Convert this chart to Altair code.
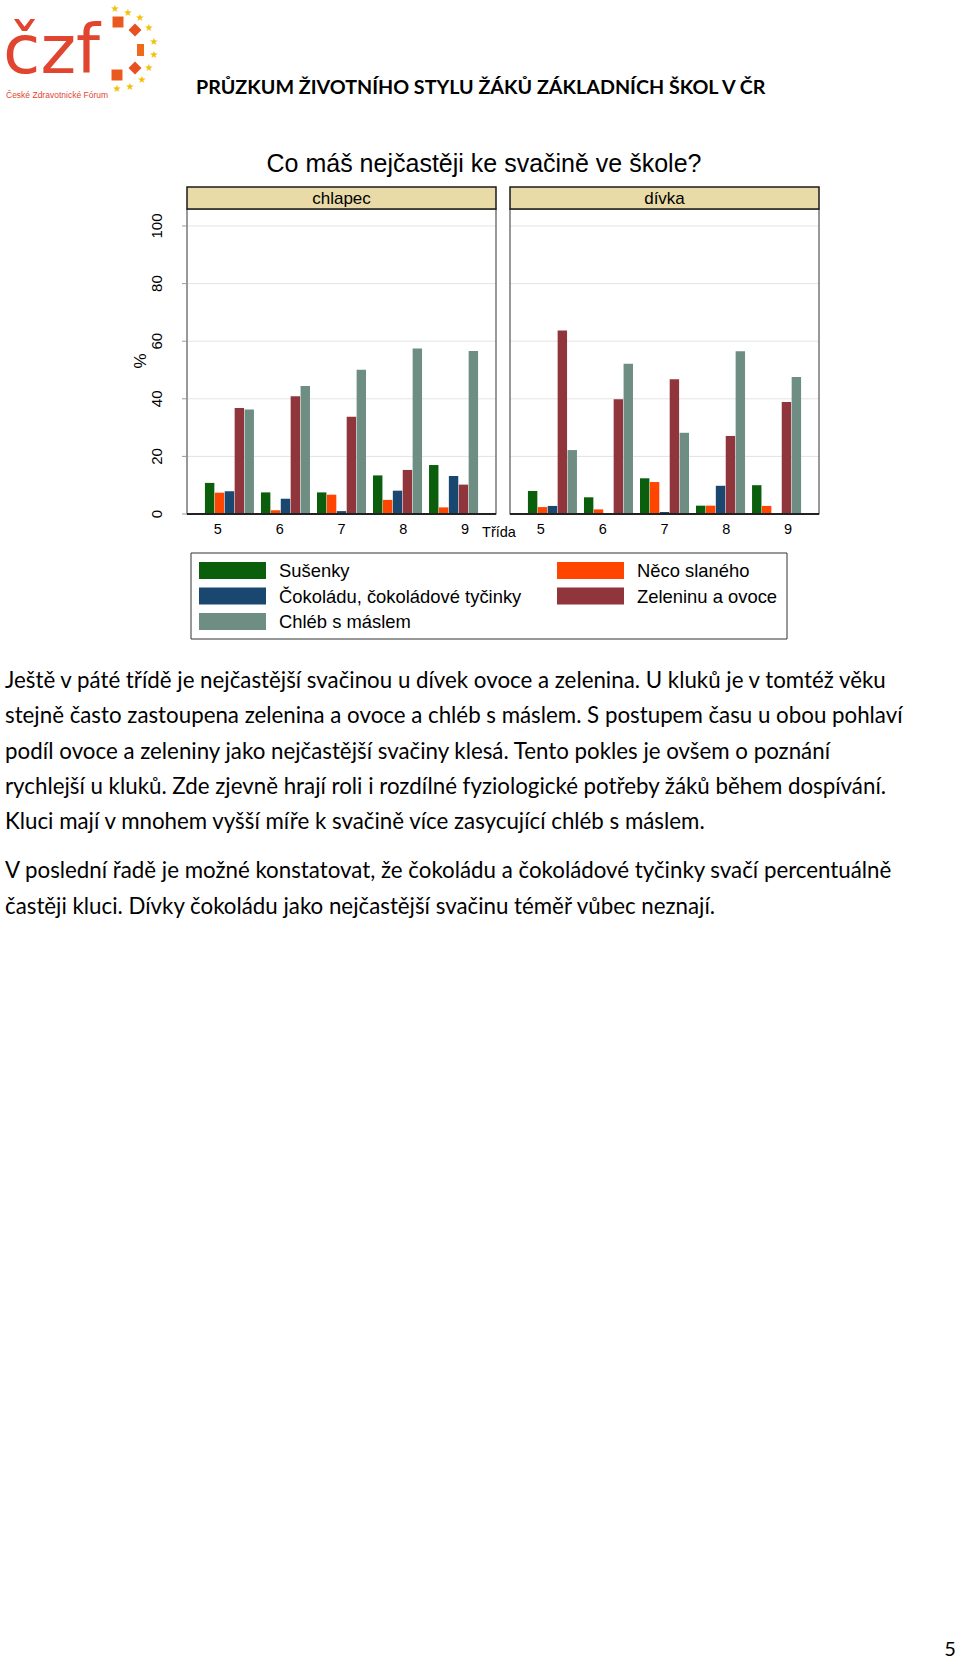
import altair as alt
import pandas as pd

# ---------------- data ----------------
grades = ["5", "6", "7", "8", "9"]
categories = ["Sušenky", "Něco slaného", "Čokoládu, čokoládové tyčinky",
              "Zeleninu a ovoce", "Chléb s máslem"]
colors = ["#0b5e0b", "#ff4500", "#1a476f", "#90353b", "#6e8e84"]

boys_susenky = [10.8, 7.5, 7.5, 13.4, 17.0]
boys_slane = [7.4, 1.3, 6.7, 4.9, 2.3]
boys_cokolada = [7.9, 5.3, 1.0, 8.1, 13.2]
boys_zelenina = [36.8, 40.9, 33.8, 15.3, 10.2]
boys_chleb = [36.3, 44.4, 50.1, 57.5, 56.6]

girls_susenky = [8.0, 5.8, 12.4, 2.9, 10.0]
girls_slane = [2.4, 1.6, 11.1, 2.9, 2.8]
girls_cokolada = [2.8, 0.0, 0.7, 9.8, 0.0]
girls_zelenina = [63.7, 39.8, 46.8, 27.1, 38.9]
girls_chleb = [22.2, 52.2, 28.2, 56.5, 47.6]

yticks = [0, 20, 40, 60, 80, 100]

header_title = "PRŮZKUM ŽIVOTNÍHO STYLU ŽÁKŮ ZÁKLADNÍCH ŠKOL V ČR"
chart_title = "Co máš nejčastěji ke svačině ve škole?"
panel_labels = ["chlapec", "dívka"]
x_title = "Třída"
y_title = "%"

paragraph1 = [
    "Ještě v páté třídě je nejčastější svačinou u dívek ovoce a zelenina. U kluků je v tomtéž věku",
    "stejně často zastoupena zelenina a ovoce a chléb s máslem. S postupem času u obou pohlaví",
    "podíl ovoce a zeleniny jako nejčastější svačiny klesá. Tento pokles je ovšem o poznání",
    "rychlejší u kluků. Zde zjevně hrají roli i rozdílné fyziologické potřeby žáků během dospívání.",
    "Kluci mají v mnohem vyšší míře k svačině více zasycující chléb s máslem.",
]
paragraph2 = [
    "V poslední řadě je možné konstatovat, že čokoládu a čokoládové tyčinky svačí percentuálně",
    "častěji kluci. Dívky čokoládu jako nejčastější svačinu téměř vůbec neznají.",
]
page_number = "5"

# ---------------- layout ----------------
W, H = 960, 1661
FONT = "Liberation Sans"
TFONT = "Lato"
PLOT_TOP, PLOT_BOTTOM, STRIP_TOP = 209, 514, 187
PANELS = [(187, 496), (510, 819)]
one = pd.DataFrame({"k": [0]})

yscale = alt.Scale(domain=[0, 105.9], range=[PLOT_BOTTOM, PLOT_TOP], nice=False, zero=False)


def xscale(x0, x1):
    return alt.Scale(domain=grades, range=[x0, x1], paddingInner=0.125, paddingOuter=0.32)


def vtext(text, x, y, size, color="#000", font=FONT, align="center", weight="normal",
          baseline="middle", angle=0):
    return alt.Chart(one).mark_text(
        text=text, font=font, fontSize=size, color=color, align=align,
        fontWeight=weight, baseline=baseline, angle=angle
    ).encode(x=alt.value(x), y=alt.value(y))


layers = []

# ---- logo ----
layers.append(vtext("čzf", 3, 73, 68, color="#e2452f", font="DejaVu Sans", align="left",
                    baseline="alphabetic"))
layers.append(vtext("České Zdravotnické Fórum", 6, 95, 8.5, color="#e2452f", align="left"))
stars = pd.DataFrame({"sx": [115, 128, 140, 149, 154, 154, 149, 142, 130, 117],
                      "sy": [9, 13, 18, 28, 42, 55, 68, 80, 87, 89]})
layers.append(alt.Chart(stars).mark_text(text="★", fontSize=10, color="#f2c200",
                                         font="DejaVu Sans").encode(
    x=alt.X("sx:Q", scale=None), y=alt.Y("sy:Q", scale=None)))
sq = pd.DataFrame({"sx": [118, 117], "sy": [22, 75]})
layers.append(alt.Chart(sq).mark_point(shape="square", filled=True, size=120, color="#ea5a1e",
                                       opacity=1).encode(
    x=alt.X("sx:Q", scale=None), y=alt.Y("sy:Q", scale=None)))
dm = pd.DataFrame({"sx": [135, 135], "sy": [30, 68]})
layers.append(alt.Chart(dm).mark_point(shape="diamond", filled=True, size=170, color="#e8501e",
                                       opacity=1).encode(
    x=alt.X("sx:Q", scale=None), y=alt.Y("sy:Q", scale=None)))
layers.append(alt.Chart(one).mark_rect(color="#ee6a1a").encode(
    x=alt.value(137), x2=alt.value(144), y=alt.value(44), y2=alt.value(56)))

# ---- header ----
layers.append(vtext(header_title, 196, 88, 19.7, font=TFONT, align="left", weight="bold"))

# ---- chart title ----
layers.append(vtext(chart_title, 484, 164, 25))

# ---- panels ----
series = [
    [boys_susenky, boys_slane, boys_cokolada, boys_zelenina, boys_chleb],
    [girls_susenky, girls_slane, girls_cokolada, girls_zelenina, girls_chleb],
]
grid_df = pd.DataFrame({"t": yticks[1:]})
tick_df = pd.DataFrame({"t": yticks})
grade_df = pd.DataFrame({"g": grades})

for p, ((x0, x1), label, vals) in enumerate(zip(PANELS, panel_labels, series)):
    rows = []
    for ci, cat in enumerate(categories):
        for gi, g in enumerate(grades):
            rows.append({"g": g, "cat": cat, "v": vals[ci][gi]})
    df = pd.DataFrame(rows)

    # plot background + gridlines
    layers.append(alt.Chart(one).mark_rect(fill="white").encode(
        x=alt.value(x0), x2=alt.value(x1), y=alt.value(PLOT_TOP), y2=alt.value(PLOT_BOTTOM)))
    layers.append(alt.Chart(grid_df).mark_rule(color="#e4e4e4", strokeWidth=1).encode(
        y=alt.Y("t:Q", scale=yscale, axis=None), x=alt.value(x0), x2=alt.value(x1)))
    # bars
    layers.append(alt.Chart(df).mark_bar(opacity=1).encode(
        x=alt.X("g:N", scale=xscale(x0, x1), axis=None),
        xOffset=alt.XOffset("cat:N", scale=alt.Scale(domain=categories, paddingInner=0.05)),
        y=alt.Y("v:Q", scale=yscale, axis=None),
        y2=alt.datum(0),
        color=alt.Color("cat:N", scale=alt.Scale(domain=categories, range=colors), legend=None),
    ))
    # border
    layers.append(alt.Chart(one).mark_rect(fill=None, stroke="#555555", strokeWidth=1.2).encode(
        x=alt.value(x0), x2=alt.value(x1), y=alt.value(PLOT_TOP), y2=alt.value(PLOT_BOTTOM)))
    # axis line
    layers.append(alt.Chart(one).mark_rule(color="#222222", strokeWidth=2).encode(
        x=alt.value(x0), x2=alt.value(x1), y=alt.value(PLOT_BOTTOM)))
    # strip
    layers.append(alt.Chart(one).mark_rect(fill="#e8dba8", stroke="#1a1a1a", strokeWidth=1.5).encode(
        x=alt.value(x0), x2=alt.value(x1), y=alt.value(STRIP_TOP), y2=alt.value(PLOT_TOP)))
    layers.append(vtext(label, (x0 + x1) / 2, (STRIP_TOP + PLOT_TOP) / 2 + 1, 17))
    # x labels
    layers.append(alt.Chart(grade_df).mark_text(font=FONT, fontSize=14.5, baseline="middle").encode(
        x=alt.X("g:N", scale=xscale(x0, x1), axis=None),
        y=alt.value(530), text="g:N"))

    if p == 0:
        layers.append(alt.Chart(tick_df).mark_rule(color="#9a9a9a", strokeWidth=1).encode(
            y=alt.Y("t:Q", scale=yscale, axis=None), x=alt.value(x0 - 5), x2=alt.value(x0)))
        layers.append(alt.Chart(tick_df).mark_text(font=FONT, fontSize=15, angle=270,
                                                   baseline="middle").encode(
            y=alt.Y("t:Q", scale=yscale, axis=None), x=alt.value(157), text="t:Q"))

layers.append(vtext(y_title, 141, 361, 17, angle=270))
layers.append(vtext(x_title, 499, 533, 14.5))

# ---- legend ----
leg = pd.DataFrame({"cat": categories, "i": range(len(categories))})
leg["col"] = leg["i"] % 2
leg["row"] = leg["i"] // 2
leg["sx0"] = 199 + leg["col"] * 358
leg["sx1"] = leg["sx0"] + 67
leg["sy0"] = 562 + leg["row"] * 25.5
leg["sy1"] = leg["sy0"] + 17
leg["tx"] = leg["sx1"] + 13
leg["ty"] = leg["sy0"] + 9

layers.append(alt.Chart(one).mark_rect(fill="white", stroke="#333333", strokeWidth=1).encode(
    x=alt.value(191), x2=alt.value(787), y=alt.value(553), y2=alt.value(639)))
layers.append(alt.Chart(leg).mark_rect().encode(
    x=alt.X("sx0:Q", scale=None), x2="sx1:Q", y=alt.Y("sy0:Q", scale=None), y2="sy1:Q",
    color=alt.Color("cat:N", scale=alt.Scale(domain=categories, range=colors), legend=None)))
layers.append(alt.Chart(leg).mark_text(font=FONT, fontSize=18.4, align="left",
                                       baseline="middle").encode(
    x=alt.X("tx:Q", scale=None), y=alt.Y("ty:Q", scale=None), text="cat:N"))

# ---- paragraphs ----
lines = pd.DataFrame({"txt": paragraph1 + paragraph2})
lines["ly"] = [681 + 35.3 * i for i in range(len(paragraph1))] + \
              [871 + 35.5 * i for i in range(len(paragraph2))]
layers.append(alt.Chart(lines).mark_text(font=TFONT, fontSize=22.3, align="left",
                                         baseline="middle", color="#000").encode(
    x=alt.value(5), y=alt.Y("ly:Q", scale=None), text="txt:N"))

layers.append(vtext(page_number, 950, 1650, 20, font=TFONT))

chart = alt.layer(*layers).properties(
    width=W, height=H, padding=0, autosize=alt.AutoSizeParams(type="none"),
    background="white"
).resolve_scale(
    x="independent", y="independent", color="independent", xOffset="independent"
).configure_view(stroke=None)

chart.save("out.html", embed_options={"renderer": "svg", "actions": False})
